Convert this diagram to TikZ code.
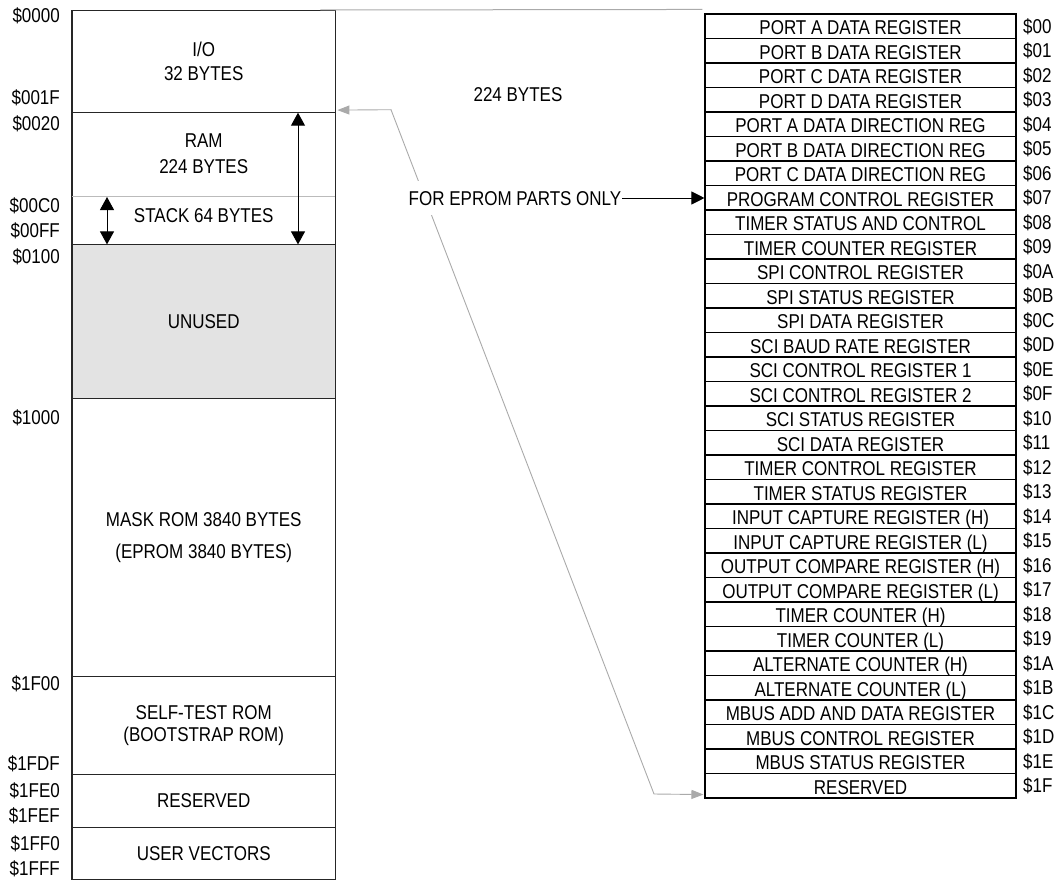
\documentclass[tikz,border=0pt]{standalone}
\usepackage{fontspec}
\setmainfont{Liberation Sans}[FakeStretch=0.85]
\usetikzlibrary{arrows.meta,calc}
\definecolor{unusedgray}{HTML}{E3E3E3}
\definecolor{conngray}{HTML}{AAAAAA}
\definecolor{splitgray}{HTML}{BBBBBB}
\begin{document}
\begin{tikzpicture}[x=1pt,y=-1pt,
  every node/.style={font=\fontsize{20pt}{22pt}\selectfont},
  blk/.style={minimum width=263pt, inner sep=0pt, align=center, anchor=north west},
  one/.style={text height=14.3pt, text depth=0pt},
  addr/.style={anchor=east, inner sep=0pt, one},
  raddr/.style={anchor=west, inner sep=0pt, one},
  reg/.style={draw, line width=1.1pt, minimum width=311pt, minimum height=24.5pt, inner sep=0pt, text height=17.1pt, text depth=0pt},
  frame/.style={line width=1.1pt, black!85},
  lbl/.style={inner sep=0pt, one},
  dbl/.style={line width=1pt, {Triangle[length=13pt,width=14pt]}-{Triangle[length=13pt,width=14pt]}},
  garrow/.style={line width=0.9pt, conngray, {Triangle[length=12pt,width=9pt]}-{Triangle[length=12pt,width=9pt]}},
  barrow/.style={line width=1pt, -{Triangle[length=13pt,width=13pt]}}]
\useasboundingbox (0,0) rectangle (1064,880);

% memory map blocks
\node[blk, minimum height=101pt] (io) at (72,10.7) {I/O\\[1.8pt]32 BYTES};
\node[blk, minimum height=84.3pt] (ram) at (72,111.7) {RAM\\[4pt]224 BYTES};
\node[blk, minimum height=48pt, one, text depth=10pt] (stack) at (72,196) {STACK 64 BYTES};
\node[blk, minimum height=154pt, fill=unusedgray, one] (unused) at (72,244) {UNUSED};
\node[blk, minimum height=278pt] (mask) at (72,398) {MASK ROM 3840 BYTES\\[10pt](EPROM 3840 BYTES)};
\node[blk, minimum height=98pt] (self) at (72,676) {SELF-TEST ROM\\[0pt](BOOTSTRAP ROM)};
\node[blk, minimum height=53pt, one] (res) at (72,774) {RESERVED};
\node[blk, minimum height=52pt, one] (vec) at (72,827) {USER VECTORS};

\draw[frame] (io.north west) rectangle (vec.south east);
\foreach \b in {io,stack,unused,mask,self,res}
  \draw[frame] (\b.south west) -- (\b.south east);
\draw[line width=1pt, splitgray] (ram.south west) -- (ram.south east);

% address labels
\node[addr] (a0000) at (60,15) {\$0000};
\node[addr] (a001F) at (60,97) {\$001F};
\node[addr] (a0020) at (60,123) {\$0020};
\node[addr] (a00C0) at (60,205) {\$00C0};
\node[addr] (a00FF) at (60,230) {\$00FF};
\node[addr] (a0100) at (60,256) {\$0100};
\node[addr] (a1000) at (60,417) {\$1000};
\node[addr] (a1F00) at (60,683) {\$1F00};
\node[addr] (a1FDF) at (60,763) {\$1FDF};
\node[addr] (a1FE0) at (60,790) {\$1FE0};
\node[addr] (a1FEF) at (60,815) {\$1FEF};
\node[addr] (a1FF0) at (60,843) {\$1FF0};
\node[addr] (a1FFF) at (60,868) {\$1FFF};

% stack / RAM extent arrows
\coordinate (s1) at ($(stack.north west)+(35,1)$);
\coordinate (s2) at ($(stack.south west)+(35,0)$);
\draw[dbl] (s1) -- (s2);
\coordinate (r1) at ($(ram.north west)+(226,1)$);
\coordinate (r2) at ($(stack.south west)+(226,0)$);
\draw[dbl] (r1) -- (r2);

% register table
\foreach \t/\a [count=\i from 0] in {
  PORT A DATA REGISTER/00, PORT B DATA REGISTER/01, PORT C DATA REGISTER/02,
  PORT D DATA REGISTER/03, PORT A DATA DIRECTION REG/04, PORT B DATA DIRECTION REG/05,
  PORT C DATA DIRECTION REG/06, PROGRAM CONTROL REGISTER/07, TIMER STATUS AND CONTROL/08,
  TIMER COUNTER REGISTER/09, SPI CONTROL REGISTER/0A, SPI STATUS REGISTER/0B,
  SPI DATA REGISTER/0C, SCI BAUD RATE REGISTER/0D, SCI CONTROL REGISTER 1/0E,
  SCI CONTROL REGISTER 2/0F, SCI STATUS REGISTER/10, SCI DATA REGISTER/11,
  TIMER CONTROL REGISTER/12, TIMER STATUS REGISTER/13, INPUT CAPTURE REGISTER (H)/14,
  INPUT CAPTURE REGISTER (L)/15, OUTPUT COMPARE REGISTER (H)/16, OUTPUT COMPARE REGISTER (L)/17,
  TIMER COUNTER (H)/18, TIMER COUNTER (L)/19, ALTERNATE COUNTER (H)/1A,
  ALTERNATE COUNTER (L)/1B, MBUS ADD AND DATA REGISTER/1C, MBUS CONTROL REGISTER/1D,
  MBUS STATUS REGISTER/1E, RESERVED/1F} {
  \node[reg] (r\i) at (860.5,{14+24.5*(\i+0.5)}) {\t};
  \node[raddr] (ra\i) at (1023,{14+24.5*(\i+0.5)}) {\$\a};
}

% floating label
\node[lbl] (b224) at (518,94) {224 BYTES};

% top projection line
\coordinate (t1) at ($(io.north east)+(-15,-0.7)$);
\coordinate (t2) at ($(r0.north west)+(-2,-4)$);
\draw[line width=1pt, conngray] (t1) -- (t2);

% gray connector from I/O block to RESERVED register
\coordinate (g1) at ($(io.south east)+(2,-2)$);
\coordinate (g2) at (391,109.7);
\coordinate (g3) at (654,794);
\coordinate (g4) at ($(r31.south west)+(-1,-4)$);
\draw[garrow] (g1) -- (g2) -- (g3) -- (g4);

% EPROM note
\node[lbl, fill=white, inner xsep=1pt, inner ysep=10pt] (eprom) at (515,198) {FOR EPROM PARTS ONLY};
\draw[barrow] (eprom.east) -- (eprom.east -| r7.west);
\end{tikzpicture}
\end{document}
